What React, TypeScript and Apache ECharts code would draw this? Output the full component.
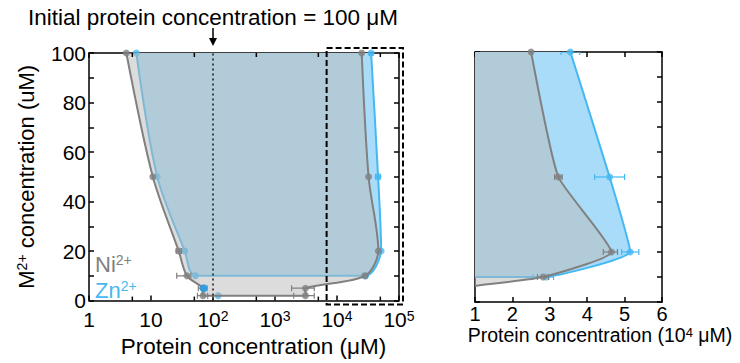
import React, { useEffect, useRef } from "react";
import * as echarts from "echarts";

const FONT = "'Liberation Sans', Arial, Helvetica, sans-serif";
const GRAY = "#808080";
const BLUE = "#45b8f2";
const BLUE_FILL = "#a8dcf8";
const GRAY_FILL = "rgba(185,185,185,0.5)";

// Ni2+ phase boundary, path order (left edge downward, bottom, right edge upward); x in μM, y in μM
const niX = [4.0, 10.7, 28, 38, 69, 69, 3100, 3100, 28200, 46500, 32300, 25000];
const niY = [100, 50, 20, 10, 5, 2, 2, 5, 10, 20, 50, 100];
const niXLow = [4.0, 10.3, 25.5, 26, 58, 56, 2000, 1850, 26700, 44300, 31300, 25000];
const niXHigh = [4.0, 11.1, 31, 44, 80, 82, 4300, 4300, 29700, 48100, 33300, 25000];

// Zn2+ phase boundary
const znX = [5.8, 12.6, 35, 52, 29000, 51500, 46000, 35500];
const znY = [100, 50, 20, 10, 10, 20, 50, 100];
const znXLow = [5.8, 12.0, 33, 49, 25500, 49200, 42000, 33000];
const znXHigh = [5.8, 13.2, 37, 55, 31000, 53800, 50000, 38000];

// Zn2+ points below the boundary
const znExtraX = [121];
const znExtraY = [2];
const znHighlightX = [71];
const znHighlightY = [5];

// axes
const leftXMin = 1;
const leftXMax = 100000;
const minorLogTicks = [5, 50, 500, 5000, 50000];
const rightXMin = 1;
const rightXMax = 6;
const rightScale = 10000;
const yMin = 0;
const yMax = 100;
const initialConc = 100;
const zoomBoxStart = 6800;

function bbox(pts: number[][]) {
  let x0 = Infinity, y0 = Infinity, x1 = -Infinity, y1 = -Infinity;
  pts.forEach((p) => {
    x0 = Math.min(x0, p[0]);
    y0 = Math.min(y0, p[1]);
    x1 = Math.max(x1, p[0]);
    y1 = Math.max(y1, p[1]);
  });
  return [[x0, y0], [x1, y1]];
}

// boundary drawn as an open smoothed polyline; used either as filled area or as outline
function boundarySeries(
  xs: number[], ys: number[], scale: number, xi: number, yi: number,
  smooth: number, style: any, z: number
) {
  return {
    type: "custom",
    xAxisIndex: xi,
    yAxisIndex: yi,
    clip: true,
    silent: true,
    z,
    data: xs.map((x, i) => [x / scale, ys[i]]),
    renderItem: (params: any, api: any) => {
      if (params.dataIndex !== 0) return null;
      const pts = xs.map((x, i) => api.coord([x / scale, ys[i]]));
      return {
        type: "polyline",
        shape: { points: pts, smooth, smoothConstraint: bbox(pts) },
        style,
      };
    },
  };
}

function errorSeries(xs: number[], ys: number[], lo: number[], hi: number[], scale: number, xi: number, yi: number, color: string, z: number) {
  return {
    type: "custom",
    xAxisIndex: xi,
    yAxisIndex: yi,
    clip: true,
    silent: true,
    z,
    encode: { x: 0, y: 1 },
    data: xs.map((x, i) => [x / scale, ys[i], lo[i] / scale, hi[i] / scale]),
    renderItem: (params: any, api: any) => {
      const y = api.value(1);
      const p0 = api.coord([api.value(2), y]);
      const p1 = api.coord([api.value(3), y]);
      if (Math.abs(p1[0] - p0[0]) < 3) return null;
      const h = 3;
      const st = { stroke: color, lineWidth: 1.2 };
      return {
        type: "group",
        children: [
          { type: "line", shape: { x1: p0[0], y1: p0[1], x2: p1[0], y2: p1[1] }, style: st },
          { type: "line", shape: { x1: p0[0], y1: p0[1] - h, x2: p0[0], y2: p0[1] + h }, style: st },
          { type: "line", shape: { x1: p1[0], y1: p1[1] - h, x2: p1[0], y2: p1[1] + h }, style: st },
        ],
      };
    },
  };
}

function scatterSeries(xs: number[], ys: number[], scale: number, xi: number, yi: number, color: string, z: number, size = 7) {
  return {
    type: "scatter",
    xAxisIndex: xi,
    yAxisIndex: yi,
    symbol: "circle",
    symbolSize: size,
    clip: true,
    silent: true,
    z,
    itemStyle: { color },
    data: xs.map((x, i) => [x / scale, ys[i]]),
  };
}

const axisLine = { show: true, onZero: false, lineStyle: { color: "#000", width: 1.5 } };
const axisTick = { show: true, inside: true, length: 5, lineStyle: { color: "#000", width: 1.5 } };
const labelStyle = { color: "#000", fontFamily: FONT, fontSize: 21 };

export default function App() {
  const ref = useRef<HTMLDivElement>(null);
  useEffect(() => {
    document.body.style.margin = "0";
    if (!ref.current) return;
    const chart = echarts.init(ref.current, undefined, { renderer: "svg" });
    const panelSeries = (xi: number, yi: number, scale: number, sm: number) => [
      boundarySeries(znX, znY, scale, xi, yi, sm, { fill: BLUE_FILL, stroke: "none" }, 1),
      boundarySeries(znX, znY, scale, xi, yi, sm, { fill: "none", stroke: BLUE, lineWidth: 2 }, 2),
      errorSeries(znX, znY, znXLow, znXHigh, scale, xi, yi, BLUE, 2),
      scatterSeries(znX.concat(znExtraX), znY.concat(znExtraY), scale, xi, yi, BLUE, 2),
      boundarySeries(niX, niY, scale, xi, yi, sm, { fill: GRAY_FILL, stroke: "none" }, 3),
      boundarySeries(niX, niY, scale, xi, yi, sm, { fill: "none", stroke: GRAY, lineWidth: 2 }, 4),
      errorSeries(niX, niY, niXLow, niXHigh, scale, xi, yi, GRAY, 4),
      scatterSeries(niX, niY, scale, xi, yi, GRAY, 4),
      scatterSeries(znHighlightX, znHighlightY, scale, xi, yi, "#1e9ff0", 5, 8),
    ];
    const option: any = {
      animation: false,
      grid: [
        { left: 89, top: 53, width: 310, height: 249 },
        { left: 475, top: 52, width: 187, height: 250 },
      ],
      xAxis: [
        {
          gridIndex: 0,
          type: "log",
          logBase: 10,
          min: leftXMin,
          max: leftXMax,
          position: "bottom",
          axisLine,
          axisTick,
          splitLine: { show: false },
          axisLabel: {
            ...labelStyle,
            margin: 8,
            formatter: (v: number) => {
              const e = Math.round(Math.log10(v));
              if (e === 0) return "1";
              if (e === 1) return "10";
              return "10{sup|" + e + "}";
            },
            rich: { sup: { fontSize: 14, fontFamily: FONT, color: "#000", verticalAlign: "top", padding: [0, 0, 8, 0] } },
          },
          name: "Protein concentration (μM)",
          nameLocation: "middle",
          nameGap: 34,
          nameTextStyle: { color: "#000", fontFamily: FONT, fontSize: 22.5, padding: [0, 0, 0, 19] },
        },
        {
          gridIndex: 0,
          type: "log",
          logBase: 10,
          min: leftXMin,
          max: leftXMax,
          position: "top",
          axisLine,
          axisTick,
          axisLabel: { show: false },
          splitLine: { show: false },
        },
        {
          gridIndex: 1,
          type: "value",
          min: rightXMin,
          max: rightXMax,
          interval: 1,
          position: "bottom",
          axisLine,
          axisTick,
          splitLine: { show: false },
          axisLabel: { ...labelStyle, fontSize: 20, lineHeight: 14, margin: 5 },
          name: "Protein concentration (10{sup|4} μM)",
          nameLocation: "middle",
          nameGap: 24,
          nameMoveOverlap: false,
          nameTextStyle: {
            color: "#000",
            fontFamily: FONT,
            fontSize: 19.5,
            lineHeight: 18,
            padding: [0, 0, 0, 63],
            rich: { sup: { fontSize: 13, fontFamily: FONT, color: "#000", lineHeight: 18, verticalAlign: "top", padding: [0, 0, 6, 0] } },
          },
        },
        {
          gridIndex: 1,
          type: "value",
          min: rightXMin,
          max: rightXMax,
          interval: 1,
          position: "top",
          axisLine,
          axisTick,
          axisLabel: { show: false },
          splitLine: { show: false },
        },
      ],
      yAxis: [
        {
          gridIndex: 0,
          type: "value",
          min: yMin,
          max: yMax,
          interval: 10,
          position: "left",
          axisLine,
          axisTick,
          splitLine: { show: false },
          axisLabel: { ...labelStyle, margin: 3, formatter: (v: number) => (v % 20 === 0 ? String(v) : "") },
          name: "{b|M}{sup|2+}{b| concentration (uM)}",
          nameLocation: "middle",
          nameGap: 52,
          nameTextStyle: {
            color: "#000",
            fontFamily: FONT,
            fontSize: 22,
            rich: {
              b: { fontSize: 22, fontFamily: FONT, color: "#000" },
              sup: { fontSize: 14, fontFamily: FONT, color: "#000", verticalAlign: "top", padding: [0, 0, 8, 0] },
            },
          },
        },
        {
          gridIndex: 0,
          type: "value",
          min: yMin,
          max: yMax,
          interval: 10,
          position: "right",
          axisLine,
          axisTick,
          axisLabel: { show: false },
          splitLine: { show: false },
        },
        {
          gridIndex: 1,
          type: "value",
          min: yMin,
          max: yMax,
          interval: 10,
          position: "left",
          axisLine,
          axisTick,
          axisLabel: { show: false },
          splitLine: { show: false },
        },
        {
          gridIndex: 1,
          type: "value",
          min: yMin,
          max: yMax,
          interval: 10,
          position: "right",
          axisLine,
          axisTick,
          axisLabel: { show: false },
          splitLine: { show: false },
        },
      ],
      series: [
        ...panelSeries(0, 0, 1, 0.3),
        ...panelSeries(2, 2, rightScale, 0.15),
        {
          type: "custom",
          xAxisIndex: 0,
          yAxisIndex: 0,
          silent: true,
          z: 6,
          data: minorLogTicks.map((v) => [v, yMin]),
          renderItem: (params: any, api: any) => {
            const b = api.coord([api.value(0), yMin]);
            const t = api.coord([api.value(0), yMax]);
            const st = { stroke: "#000", lineWidth: 1.5 };
            return {
              type: "group",
              children: [
                { type: "line", shape: { x1: b[0], y1: b[1], x2: b[0], y2: b[1] - 4 }, style: st },
                { type: "line", shape: { x1: t[0], y1: t[1], x2: t[0], y2: t[1] + 4 }, style: st },
              ],
            };
          },
          markLine: {
            silent: true,
            symbol: "none",
            label: { show: false },
            lineStyle: { type: [2, 3], color: "#222", width: 1.6 },
            data: [{ xAxis: initialConc }],
          },
        },
      ],
    };
    chart.setOption(option);

    const pTop = chart.convertToPixel({ gridIndex: 0 }, [initialConc, yMax]) as number[];
    const pBox0 = chart.convertToPixel({ gridIndex: 0 }, [zoomBoxStart, yMax]) as number[];
    const pBox1 = chart.convertToPixel({ gridIndex: 0 }, [leftXMax, yMin]) as number[];
    const ax = pTop[0];
    chart.setOption({
      graphic: [
        {
          type: "text",
          x: ax,
          y: 17,
          style: {
            text: "Initial protein concentration = " + initialConc + " μM",
            font: `22.5px ${FONT}`,
            fill: "#000",
            textAlign: "center",
            textVerticalAlign: "middle",
          },
        },
        { type: "line", shape: { x1: ax, y1: 28, x2: ax, y2: 39 }, style: { stroke: "#000", lineWidth: 1.5 } },
        { type: "polygon", shape: { points: [[ax - 4, 38], [ax + 4, 38], [ax, 46]] }, style: { fill: "#000" } },
        {
          type: "rect",
          shape: { x: pBox0[0], y: pTop[1] - 5, width: pBox1[0] + 4 - pBox0[0], height: pBox1[1] + 4 - (pTop[1] - 5) },
          style: { fill: "none", stroke: "#000", lineWidth: 2, lineDash: [6, 3] },
          z: 10,
        },
        {
          type: "text",
          x: 95,
          y: 264,
          z: 10,
          style: {
            text: "{b|Ni}{s|2+}",
            fill: GRAY,
            textVerticalAlign: "middle",
            rich: {
              b: { fontSize: 22, fontFamily: FONT, fill: GRAY },
              s: { fontSize: 14, fontFamily: FONT, fill: GRAY, verticalAlign: "top", padding: [0, 0, 8, 0] },
            },
          },
        },
        {
          type: "text",
          x: 95,
          y: 290,
          z: 10,
          style: {
            text: "{b|Zn}{s|2+}",
            fill: BLUE,
            textVerticalAlign: "middle",
            rich: {
              b: { fontSize: 22, fontFamily: FONT, fill: BLUE },
              s: { fontSize: 14, fontFamily: FONT, fill: BLUE, verticalAlign: "top", padding: [0, 0, 8, 0] },
            },
          },
        },
      ],
    });
    return () => chart.dispose();
  }, []);
  return <div ref={ref} style={{ width: 740, height: 363 }} />;
}
